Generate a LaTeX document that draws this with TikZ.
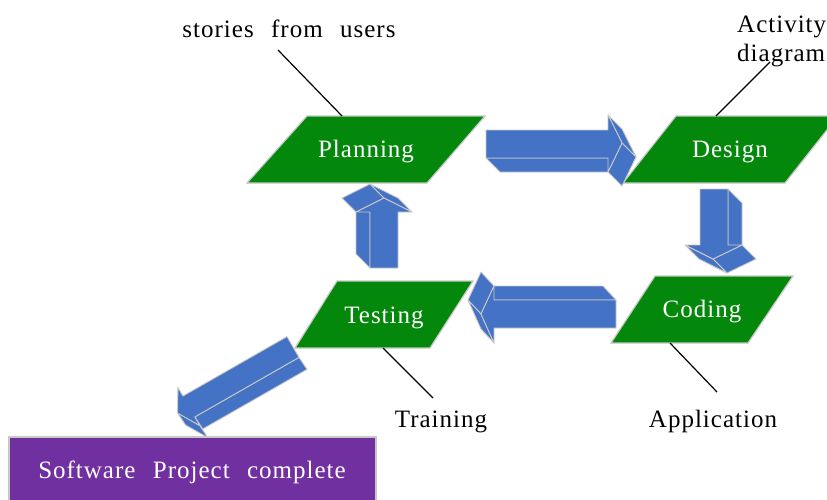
\documentclass[tikz,border=0pt]{standalone}
\usepackage{fontspec}
\setmainfont{Liberation Serif}
\newfontfamily\spacedserif[LetterSpace=4,WordSpace=2.4]{Liberation Serif}
\newcommand{\phasefont}{\spacedserif\fontsize{25}{29}\selectfont}
\newcommand{\notefont}{\spacedserif\fontsize{25}{29}\selectfont}
\definecolor{phasegreen}{RGB}{4,136,12}
\definecolor{arrowblue}{RGB}{68,114,196}
\definecolor{donepurple}{RGB}{112,48,160}
\definecolor{edgegray}{RGB}{200,200,200}
\tikzset{
  phaseshape/.style={fill=phasegreen,draw=edgegray,line width=1.2pt},
  phasename/.style={text=white,font=\phasefont,anchor=base,inner sep=0pt},
  remark/.style={text=black,font=\notefont,anchor=base,inner sep=0pt},
  pointer/.style={draw=black,line width=1.2pt},
  blockface/.style={fill=arrowblue,draw=edgegray,line width=0.9pt,line join=round}
}
\begin{document}
\begin{tikzpicture}[x=1pt,y=-1pt]
    \useasboundingbox (0,0) rectangle (827,499);
    % phases
    \draw[phaseshape] (307,116) -- (485,116) -- (427,183) -- (247,183) -- cycle;
    \draw[phaseshape] (676,116) -- (838,116) -- (785,183) -- (623,183) -- cycle;
    \draw[phaseshape] (655,276) -- (793,276) -- (748,343) -- (611,343) -- cycle;
    \draw[phaseshape] (337,281) -- (473,281) -- (430,348) -- (295,348) -- cycle;
    \node[phasename] (Planning) at (366,157) {Planning};
    \node[phasename] (Design) at (730,157) {Design};
    \node[phasename] (Coding) at (702,317) {Coding};
    \node[phasename] (Testing) at (384,323) {Testing};
    % planning -> design
    \draw[blockface] (486,158) -- (608,158) -- (622,172) -- (500,172) -- cycle;
    \draw[blockface] (608,115) -- (622,143) -- (636,157) -- (622,129) -- cycle;
    \draw[blockface] (622,143) -- (608,172) -- (622,186) -- (636,157) -- cycle;
    \draw[blockface] (486,130) -- (608,130) -- (608,115) -- (622,143) -- (608,172) -- (608,158) -- (486,158) -- cycle;
    % design -> coding
    \draw[blockface] (728,189) -- (742,203) -- (742,259) -- (728,245) -- cycle;
    \draw[blockface] (742,245) -- (713,259) -- (727,273) -- (756,259) -- cycle;
    \draw[blockface] (685,245) -- (713,259) -- (727,273) -- (699,259) -- cycle;
    \draw[blockface] (700,189) -- (728,189) -- (728,245) -- (742,245) -- (713,259) -- (685,245) -- (700,245) -- cycle;
    % coding -> testing
    \draw[blockface] (616,300) -- (494,300) -- (481,286) -- (603,286) -- cycle;
    \draw[blockface] (494,286) -- (481,314) -- (468,300) -- (481,272) -- cycle;
    \draw[blockface] (481,314) -- (494,343) -- (481,329) -- (468,300) -- cycle;
    \draw[blockface] (616,300) -- (494,300) -- (494,286) -- (481,314) -- (494,343) -- (494,328) -- (616,328) -- cycle;
    % testing -> planning
    \draw[blockface] (370,268) -- (370,212) -- (356,198) -- (356,254) -- cycle;
    \draw[blockface] (356,212) -- (384,198) -- (370,184) -- (342,198) -- cycle;
    \draw[blockface] (384,198) -- (412,212) -- (398,198) -- (370,184) -- cycle;
    \draw[blockface] (398,268) -- (370,268) -- (370,212) -- (356,212) -- (384,198) -- (412,212) -- (398,212) -- cycle;
    % testing -> done
    \draw[blockface] (299,357.4) -- (194.8,416.9) -- (202.8,428.9) -- (307,369.4) -- cycle;
    \draw[blockface] (199.8,425.6) -- (177.6,413) -- (185.6,425) -- (207.8,437.6) -- cycle;
    \draw[blockface] (287,336.6) -- (182.9,396.1) -- (177.9,387.4) -- (177.6,413) -- (199.8,425.6) -- (194.8,416.9) -- (299,357.4) -- cycle;
    % done
    \draw[fill=donepurple,draw=edgegray,line width=1.2pt] (9,437) rectangle (376,520);
    \node[remark,text=white] (Done) at (192,478) {Software Project complete};
    % notes
    \node[remark] (Stories) at (289,37) {stories from users};
    \node[remark,anchor=north west,align=left] (Activity) at (737,16) {Activity\\diagram};
    \node[remark] (Training) at (441,427) {Training};
    \node[remark] (Application) at (713,427) {Application};
    \coordinate (StoriesFoot) at (278,50);
    \coordinate (PlanningTop) at (342,116);
    \coordinate (ActivityFoot) at (770,62);
    \coordinate (DesignTop) at (716,116);
    \coordinate (TestingFoot) at (383,348);
    \coordinate (TrainingTop) at (433,398);
    \coordinate (CodingFoot) at (670,343);
    \coordinate (ApplicationTop) at (717,392);
    \draw[pointer] (StoriesFoot) -- (PlanningTop);
    \draw[pointer] (ActivityFoot) -- (DesignTop);
    \draw[pointer] (TestingFoot) -- (TrainingTop);
    \draw[pointer] (CodingFoot) -- (ApplicationTop);
\end{tikzpicture}
\end{document}
